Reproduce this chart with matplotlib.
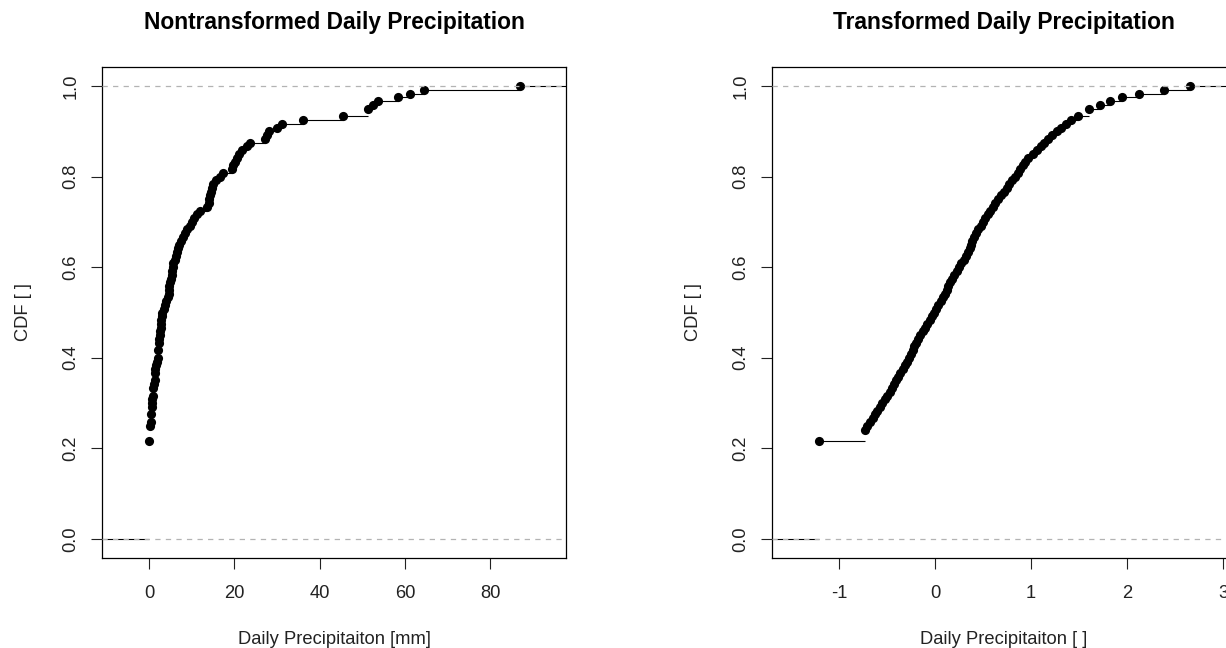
import matplotlib
matplotlib.use("Agg")
import matplotlib.pyplot as plt
import numpy as np

plt.rcParams['font.family'] = ['Liberation Sans', 'DejaVu Sans']
plt.rcParams['lines.scale_dashes'] = False

# ---------------- data (sorted sample values) ----------------
precip_zeros = [0.0] * 26
precip_wet = [0.3, 0.3, 0.3, 0.3, 0.4, 0.5, 0.5, 0.6, 0.6, 0.7, 0.8, 0.9, 1.0, 1.0,
              1.1, 1.3, 1.4, 1.4, 1.5, 1.7, 1.8, 2.0, 2.2, 2.2, 2.3, 2.3, 2.4, 2.5,
              2.6, 2.7, 2.8, 2.9, 3.0, 3.1, 3.4, 3.8, 4.1, 4.5, 4.6, 4.7, 4.8, 5.0,
              5.1, 5.3, 5.4, 5.6, 5.7, 6.0, 6.3, 6.5, 6.8, 7.1, 7.5, 7.9, 8.4, 9.0,
              9.7, 10.1, 10.6, 11.2, 12.0, 13.5, 14.0, 14.1, 14.3, 14.5, 14.8, 15.1,
              15.8, 16.6, 17.4, 19.4, 19.8, 20.1, 20.6, 21.2, 21.9, 23.0, 23.7, 27.2,
              27.6, 28.1, 29.9, 31.3, 36.0, 45.4, 51.4, 51.4, 52.6, 53.8, 58.4, 61.2,
              64.5, 87.0]
precip_mm = precip_zeros + precip_wet

trans_zeros = [-1.21] * 26
trans_wet = [-0.73, -0.73, -0.73, -0.71, -0.68, -0.65, -0.62, -0.60, -0.57, -0.55,
             -0.52, -0.50, -0.47, -0.45, -0.43, -0.41, -0.39, -0.36, -0.33, -0.31,
             -0.29, -0.27, -0.25, -0.23, -0.22, -0.20, -0.18, -0.16, -0.13, -0.10,
             -0.08, -0.05, -0.03, -0.01, 0.01, 0.03, 0.06, 0.08, 0.10, 0.12, 0.14,
             0.16, 0.18, 0.20, 0.23, 0.25, 0.27, 0.30, 0.32, 0.34, 0.36, 0.37, 0.39,
             0.41, 0.43, 0.45, 0.48, 0.50, 0.52, 0.55, 0.57, 0.60, 0.63, 0.66, 0.69,
             0.72, 0.75, 0.77, 0.80, 0.83, 0.86, 0.89, 0.92, 0.94, 0.97, 1.02, 1.06,
             1.10, 1.14, 1.18, 1.22, 1.27, 1.31, 1.36, 1.42, 1.49, 1.60, 1.60, 1.72,
             1.82, 1.95, 2.12, 2.39, 2.66]
precip_trans = trans_zeros + trans_wet

titles = ["Nontransformed Daily Precipitation", "Transformed Daily Precipitation"]
xlabels = ["Daily Precipitaiton [mm]", "Daily Precipitaiton [ ]"]
ylabel = "CDF [ ]"
xticks_left = [0, 20, 40, 60, 80]
xticks_right = [-1, 0, 1, 2, 3]
yticks = [0.0, 0.2, 0.4, 0.6, 0.8, 1.0]

# ---------------- figure ----------------
W, H = 1226, 648
fig = plt.figure(figsize=(W / 100, H / 100), dpi=100)
fig.patch.set_facecolor('white')

def fx(px):
    return px / W

def fy(py):
    return 1 - py / H

ax_w = fx(566) - fx(101.7)
ax_h = fy(67) - fy(558)
axL = fig.add_axes([fx(101.7), fy(558), ax_w, ax_h])
axR = fig.add_axes([fx(771.7), fy(558), ax_w, ax_h])

LABEL_FS = 13.2

def ecdf_plot(ax, data, xlim, xticks):
    vals = np.sort(np.asarray(data, dtype=float))
    knots, counts = np.unique(vals, return_counts=True)
    n = len(vals)
    cum = np.cumsum(counts) / n
    ax.set_xlim(*xlim)
    ax.set_ylim(-0.042, 1.042)
    # horizontal steps
    left_edges = np.concatenate([[xlim[0] - 10], knots])
    right_edges = np.concatenate([knots, [xlim[1] + 10]])
    levels = np.concatenate([[0.0], cum])
    ax.hlines(levels, left_edges, right_edges, colors='black', linewidth=0.8, zorder=2)
    ax.plot(knots, cum, 'o', color='black', markersize=6.6, markeredgewidth=0, zorder=3)
    for h in (0.0, 1.0):
        ax.axhline(h, color='#b3b3b3', linewidth=0.9, linestyle=(0, (3.8, 3.8)), zorder=4)
    ax.set_xticks(xticks)
    ax.set_xticklabels([str(t) for t in xticks])
    ax.set_yticks(yticks)
    ax.set_yticklabels([f"{t:.1f}" for t in yticks], rotation=90, va='center')
    ax.tick_params(axis='both', direction='out', length=8, width=0.8,
                   labelsize=LABEL_FS, colors='#222222', pad=8)
    ax.tick_params(axis='x', pad=11.5)
    for s in ax.spines.values():
        s.set_linewidth(0.9)
        s.set_color('black')

ecdf_plot(axL, precip_mm, (-11.09, 97.77), xticks_left)
ecdf_plot(axR, precip_trans, (-1.701, 3.135), xticks_right)

# titles and axis labels
TITLE_FS = 16.4
fig.text(fx(334), fy(23), titles[0], ha='center', va='center', fontsize=TITLE_FS,
         fontweight='bold', color='black')
fig.text(fx(1004), fy(23), titles[1], ha='center', va='center', fontsize=TITLE_FS,
         fontweight='bold', color='black')
fig.text(fx(334), fy(639), xlabels[0], ha='center', va='center', fontsize=LABEL_FS, color='#222222')
fig.text(fx(1004), fy(639), xlabels[1], ha='center', va='center', fontsize=LABEL_FS, color='#222222')
fig.text(fx(23), fy(312), ylabel, ha='center', va='center', fontsize=LABEL_FS, rotation=90, color='#222222')
fig.text(fx(693), fy(312), ylabel, ha='center', va='center', fontsize=LABEL_FS, rotation=90, color='#222222')

fig.savefig("out.png", dpi=100, facecolor='white')
